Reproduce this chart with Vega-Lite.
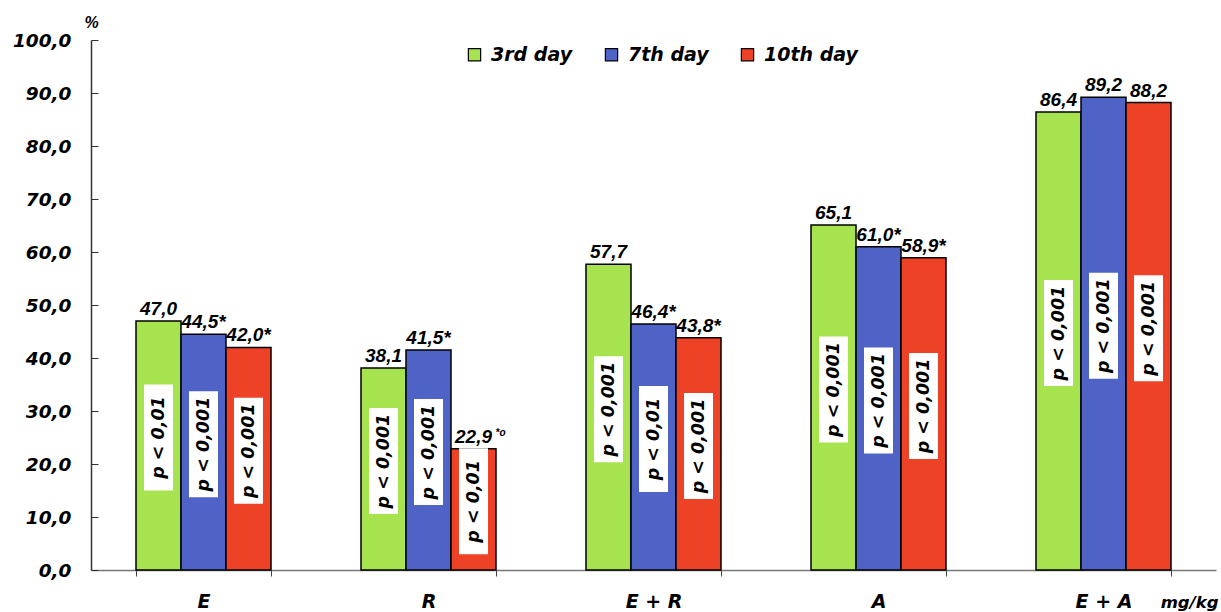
{
  "$schema": "https://vega.github.io/schema/vega-lite/v6.json",
  "width": 1125,
  "height": 530,
  "autosize": {"type": "none"},
  "padding": {"left": 91, "top": 40, "right": 5, "bottom": 42},
  "background": "white",
  "config": {"view": {"stroke": null}},
  "data": {
    "values": [
      {"group": "E", "day": "3rd day", "value": 47.0, "label": "47,0", "p": "p < 0,01"},
      {"group": "E", "day": "7th day", "value": 44.5, "label": "44,5*", "p": "p < 0,001"},
      {"group": "E", "day": "10th day", "value": 42.0, "label": "42,0*", "p": "p < 0,001"},
      {"group": "R", "day": "3rd day", "value": 38.1, "label": "38,1", "p": "p < 0,001"},
      {"group": "R", "day": "7th day", "value": 41.5, "label": "41,5*", "p": "p < 0,001"},
      {"group": "R", "day": "10th day", "value": 22.9, "label": "22,9", "sup": "*o", "p": "p < 0,01"},
      {"group": "E + R", "day": "3rd day", "value": 57.7, "label": "57,7", "p": "p < 0,001"},
      {"group": "E + R", "day": "7th day", "value": 46.4, "label": "46,4*", "p": "p < 0,01"},
      {"group": "E + R", "day": "10th day", "value": 43.8, "label": "43,8*", "p": "p < 0,001"},
      {"group": "A", "day": "3rd day", "value": 65.1, "label": "65,1", "p": "p < 0,001"},
      {"group": "A", "day": "7th day", "value": 61.0, "label": "61,0*", "p": "p < 0,001"},
      {"group": "A", "day": "10th day", "value": 58.9, "label": "58,9*", "p": "p < 0,001"},
      {"group": "E + A", "day": "3rd day", "value": 86.4, "label": "86,4", "p": "p < 0,001"},
      {"group": "E + A", "day": "7th day", "value": 89.2, "label": "89,2", "p": "p < 0,001"},
      {"group": "E + A", "day": "10th day", "value": 88.2, "label": "88,2", "p": "p < 0,001"}
    ]
  },
  "encoding": {
    "x": {
      "field": "group", "type": "nominal",
      "sort": ["E", "R", "E + R", "A", "E + A"],
      "scale": {"paddingInner": 0.4, "paddingOuter": 0.2},
      "axis": {
        "title": "mg/kg", "titleX": 1127, "titleY": 37, "titleAlign": "right", "titleBaseline": "alphabetic",
        "titleFont": "DejaVu Sans", "titleFontSize": 16.5, "titleFontStyle": "italic", "titleFontWeight": "bold", "titleColor": "black",
        "labelAngle": 0, "labelFont": "DejaVu Sans", "labelFontSize": 19, "labelFontStyle": "italic", "labelFontWeight": "bold", "labelColor": "black",
        "labelPadding": 16, "tickSize": 6, "tickBand": "extent", "tickColor": "#444", "domainColor": "#777", "domainWidth": 1.5
      }
    },
    "xOffset": {"field": "day", "type": "nominal", "sort": ["3rd day", "7th day", "10th day"], "scale": {"paddingInner": 0, "paddingOuter": 0}}
  },
  "layer": [
    {
      "mark": {"type": "bar", "stroke": "black", "strokeWidth": 1.5},
      "encoding": {
        "y": {
          "field": "value", "type": "quantitative", "scale": {"domain": [0, 100]},
          "axis": {
            "title": "%", "titleAngle": 0, "titleX": 0, "titleY": -18, "titleAlign": "center", "titleBaseline": "middle",
            "titleFont": "Liberation Sans", "titleFontSize": 16, "titleFontStyle": "italic", "titleFontWeight": "bold", "titleColor": "black",
            "values": [0, 10, 20, 30, 40, 50, 60, 70, 80, 90, 100],
            "labelExpr": "replace(format(datum.value, '.1f'), '.', ',')",
            "labelFont": "DejaVu Sans", "labelFontSize": 18.5, "labelFontStyle": "italic", "labelFontWeight": "bold", "labelColor": "black",
            "labelPadding": 27, "tickSize": -7, "tickColor": "#333", "domainColor": "#333", "domainWidth": 1.5, "grid": false,
            "labelFlush": false, "labelOverlap": false
          }
        },
        "color": {
          "field": "day", "type": "nominal",
          "scale": {"domain": ["3rd day", "7th day", "10th day"], "range": ["#A6E34E", "#4F63C6", "#EE4226"]},
          "legend": {
            "title": null, "orient": "none", "direction": "horizontal", "legendX": 374, "legendY": 5,
            "symbolType": "square", "symbolSize": 150, "symbolStrokeColor": "black", "symbolStrokeWidth": 1.2,
            "labelFont": "DejaVu Sans", "labelFontSize": 19, "labelFontStyle": "italic", "labelFontWeight": "bold", "labelColor": "black",
            "labelOffset": 7, "columnPadding": 29, "padding": 0
          }
        }
      }
    },
    {
      "transform": [
        {"calculate": "datum.value / 2 + 1.5 - 10", "as": "boxLo"},
        {"calculate": "datum.value / 2 + 1.5 + 10", "as": "boxHi"}
      ],
      "mark": {"type": "bar", "fill": "white", "width": 29},
      "encoding": {
        "y": {"field": "boxLo", "type": "quantitative", "scale": {"domain": [0, 100]}},
        "y2": {"field": "boxHi"}
      }
    },
    {
      "transform": [{"calculate": "datum.value / 2 + 1.5", "as": "boxMid"}],
      "mark": {"type": "text", "angle": 270, "align": "center", "baseline": "middle", "font": "DejaVu Sans", "fontSize": 17.5, "fontStyle": "italic", "fontWeight": "bold", "color": "black"},
      "encoding": {
        "y": {"field": "boxMid", "type": "quantitative", "scale": {"domain": [0, 100]}},
        "text": {"field": "p"}
      }
    },
    {
      "mark": {"type": "text", "align": "center", "baseline": "alphabetic", "dy": -6, "font": "Liberation Sans", "fontSize": 19, "fontStyle": "italic", "fontWeight": "bold", "color": "black"},
      "encoding": {
        "y": {"field": "value", "type": "quantitative", "scale": {"domain": [0, 100]}},
        "text": {"field": "label"}
      }
    },
    {
      "transform": [{"filter": "datum.sup != null"}],
      "mark": {"type": "text", "align": "left", "baseline": "alphabetic", "dx": 22, "dy": -13, "font": "Liberation Sans", "fontSize": 10, "fontStyle": "italic", "fontWeight": "bold", "color": "black"},
      "encoding": {
        "y": {"field": "value", "type": "quantitative", "scale": {"domain": [0, 100]}},
        "text": {"field": "sup"}
      }
    }
  ]
}
